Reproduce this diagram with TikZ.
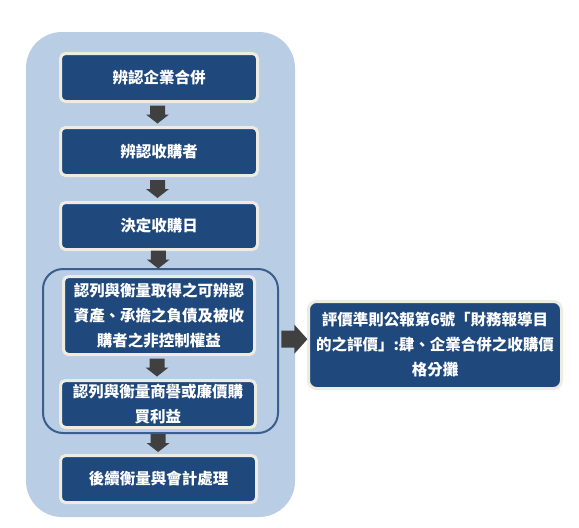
\documentclass[tikz,border=0pt]{standalone}
\usepackage{fontspec}
\newfontfamily\cjk{Noto Sans CJK TC}
\usetikzlibrary{calc}
\definecolor{outerbg}{HTML}{B9CDE5}
\definecolor{boxblue}{HTML}{1F497D}
\definecolor{boxedge}{HTML}{EEECE1}
\definecolor{grpedge}{HTML}{3B5E8C}
\definecolor{arrowgray}{HTML}{404040}
\begin{document}
\begin{tikzpicture}[x=1pt,y=-1pt,
  stepbox/.style={draw=boxedge, line width=3pt, fill=boxblue, rounded corners=5pt,
    text=white, align=center, inner sep=0pt,
    font=\cjk\bfseries\fontsize{15.5}{25}\selectfont},
  grpbox/.style={draw=grpedge, line width=2pt, rounded corners=20pt, inner sep=0pt},
  downblock/.pic={\fill[arrowgray] (-7.5,-9) -- (7.5,-9) -- (7.5,0) -- (11.5,0) -- (0,9) -- (-11.5,0) -- (-7.5,0) -- cycle;},
  rightblock/.pic={\fill[arrowgray] (-13,-8.5) -- (0,-8.5) -- (0,-14.5) -- (13,0) -- (0,14.5) -- (0,8.5) -- (-13,8.5) -- cycle;}
]
\useasboundingbox (0,0) rectangle (579,528);
\fill[outerbg, rounded corners=36pt] (26,32) rectangle (295,517);
\node[grpbox, minimum width=235pt, minimum height=164pt] (grp) at (160.5,351) {};

\node[stepbox, minimum width=197pt, minimum height=48pt] (b1) at (159,77.5) {辨認企業合併};
\node[stepbox, minimum width=197pt, minimum height=48pt] (b2) at (159,151.5) {辨認收購者};
\node[stepbox, minimum width=197pt, minimum height=47pt] (b3) at (159,226) {決定收購日};
\node[stepbox, minimum width=191pt, minimum height=78pt] (b4) at (159,315.5) {認列與衡量取得之可辨認\\資產、承擔之負債及被收\\購者之非控制權益};
\node[stepbox, minimum width=195pt, minimum height=47pt] (b5) at (158,404) {認列與衡量商譽或廉價購\\買利益};
\node[stepbox, minimum width=196pt, minimum height=47pt] (b6) at (158.5,479) {後續衡量與會計處理};
\node[stepbox, rounded corners=8pt, minimum width=253pt, minimum height=87pt] (rt) at (435,345) {評價準則公報第6號「財務報導目\\的之評價」:肆、企業合併之收購價\\格分攤};

\path (b1.south) -- (b2.north) coordinate[pos=0.5] (m1);
\path (b2.south) -- (b3.north) coordinate[pos=0.5] (m2);
\path (b3.south) -- (grp.north) coordinate[pos=0.5] (m3);
\path (b4.south) -- (b5.north) coordinate[pos=0.5] (m4);
\path (grp.south) -- (b6.north) coordinate[pos=0.45] (m5);
\coordinate (mr) at ($(grp.east)!0.55!(rt.west) + (0,-8.5)$);
\foreach \m in {m1,m2,m3,m4,m5} { \pic[xshift=-1.5pt] at (\m) {downblock}; }
\pic at (mr) {rightblock};
\end{tikzpicture}
\end{document}
